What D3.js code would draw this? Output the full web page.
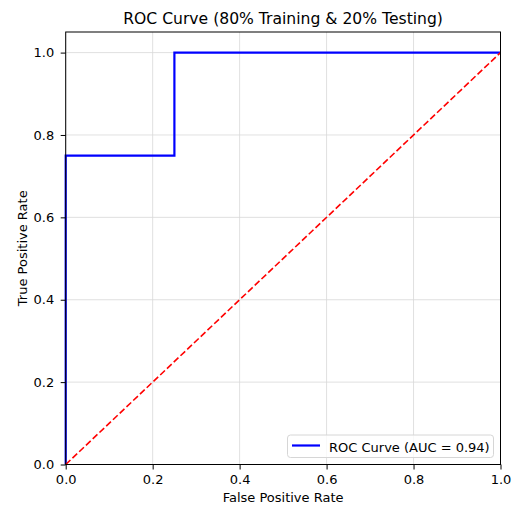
<!DOCTYPE html>
<html>
<head>
<meta charset="utf-8">
<script src="https://cdn.jsdelivr.net/npm/d3@7"></script>
<style>
  body { margin: 0; background: #fff; }
  text { font-family: "DejaVu Sans", sans-serif; fill: #000; }
</style>
</head>
<body>
<div class="vis-holder"></div>
<script>
// ROC points
var fpr = [0, 0, 0.25, 0.25, 1];
var tpr = [0, 0.75, 0.75, 1, 1];
// chance line
var chanceX = [0, 1];
var chanceY = [0, 1];
var tickValues = [0, 0.2, 0.4, 0.6, 0.8, 1.0];
var legendLabel = "ROC Curve (AUC = 0.94)";

var width = 519;
var height = 506;
var margin = { top: 32, bottom: 41.5, left: 65.7, right: 18.5 };

var svg = d3.select(".vis-holder")
            .append("svg")
            .attr("width", width)
            .attr("height", height);

var xScale = d3.scaleLinear()
               .domain([0, 1])
               .range([margin.left, width - margin.right]);

var yScale = d3.scaleLinear()
               .domain([0, 1.05])
               .range([height - margin.bottom, margin.top]);

// grid
var grid = svg.append("g");
grid.selectAll(".vgrid")
    .data(tickValues)
    .enter()
    .append("line")
    .attr("x1", function(d) { return xScale(d); })
    .attr("x2", function(d) { return xScale(d); })
    .attr("y1", yScale(0))
    .attr("y2", yScale(1.05))
    .attr("stroke", "#d8d8d8")
    .attr("stroke-width", 0.8);
grid.selectAll(".hgrid")
    .data(tickValues)
    .enter()
    .append("line")
    .attr("x1", xScale(0))
    .attr("x2", xScale(1))
    .attr("y1", function(d) { return yScale(d); })
    .attr("y2", function(d) { return yScale(d); })
    .attr("stroke", "#d8d8d8")
    .attr("stroke-width", 0.8);

// ROC curve
var line = d3.line()
             .x(function(d) { return xScale(d[0]); })
             .y(function(d) { return yScale(d[1]); });

svg.append("clipPath").attr("id", "plotclip")
   .append("rect")
   .attr("x", xScale(0) - 2)
   .attr("y", yScale(1.05))
   .attr("width", xScale(1) - xScale(0) + 4)
   .attr("height", yScale(0) - yScale(1.05) + 2);

svg.append("path")
   .attr("d", line(d3.zip(fpr, tpr)))
   .attr("fill", "none")
   .attr("stroke", "#0000ff")
   .attr("stroke-width", 2.2)
   .attr("clip-path", "url(#plotclip)");

svg.append("path")
   .attr("d", line(d3.zip(chanceX, chanceY)))
   .attr("fill", "none")
   .attr("stroke", "#ff0000")
   .attr("stroke-width", 1.6)
   .attr("stroke-dasharray", "6.5,2.8");

// axes
var xAxis = svg.append("g")
               .attr("transform", "translate(0," + yScale(0) + ")")
               .call(d3.axisBottom(xScale).tickValues(tickValues).tickFormat(d3.format(".1f")).tickSize(5).tickPadding(5.5));
var yAxis = svg.append("g")
               .attr("transform", "translate(" + xScale(0) + ",0)")
               .call(d3.axisLeft(yScale).tickValues(tickValues).tickFormat(d3.format(".1f")).tickSize(5).tickPadding(6.5));
[xAxis, yAxis].forEach(function(a) {
  a.select(".domain").remove();
  a.selectAll("line").attr("stroke", "#000").attr("stroke-width", 1);
  a.selectAll("text").attr("font-size", 13).attr("font-family", "DejaVu Sans").attr("fill", "#000");
});

// frame
svg.append("rect")
   .attr("x", xScale(0))
   .attr("y", yScale(1.05))
   .attr("width", xScale(1) - xScale(0))
   .attr("height", yScale(0) - yScale(1.05))
   .attr("fill", "none")
   .attr("stroke", "#000")
   .attr("stroke-width", 1);

// legend
var legend = svg.append("g").attr("transform", "translate(287.5,435)");
legend.append("rect")
      .attr("width", 206)
      .attr("height", 22.5)
      .attr("rx", 3)
      .attr("fill", "#fff")
      .attr("fill-opacity", 0.8)
      .attr("stroke", "#d6d6d6")
      .attr("stroke-width", 1);
legend.append("line")
      .attr("x1", 4.5).attr("x2", 32.5)
      .attr("y1", 10.5).attr("y2", 10.5)
      .attr("stroke", "#0000ff")
      .attr("stroke-width", 2.2);
legend.append("text")
      .attr("x", 41.5)
      .attr("y", 16.5)
      .attr("font-size", 13)
      .text(legendLabel);

// titles
svg.append("text")
   .attr("text-anchor", "middle")
   .attr("x", (xScale(0) + xScale(1)) / 2)
   .attr("y", 24)
   .attr("font-size", 15.6)
   .text("ROC Curve (80% Training & 20% Testing)");

svg.append("text")
   .attr("text-anchor", "middle")
   .attr("x", (xScale(0) + xScale(1)) / 2)
   .attr("y", 502)
   .attr("font-size", 13)
   .text("False Positive Rate");

svg.append("text")
   .attr("text-anchor", "middle")
   .attr("transform", "translate(27," + ((yScale(0) + yScale(1.05)) / 2) + ")rotate(-90)")
   .attr("font-size", 13)
   .text("True Positive Rate");
</script>
</body>
</html>
